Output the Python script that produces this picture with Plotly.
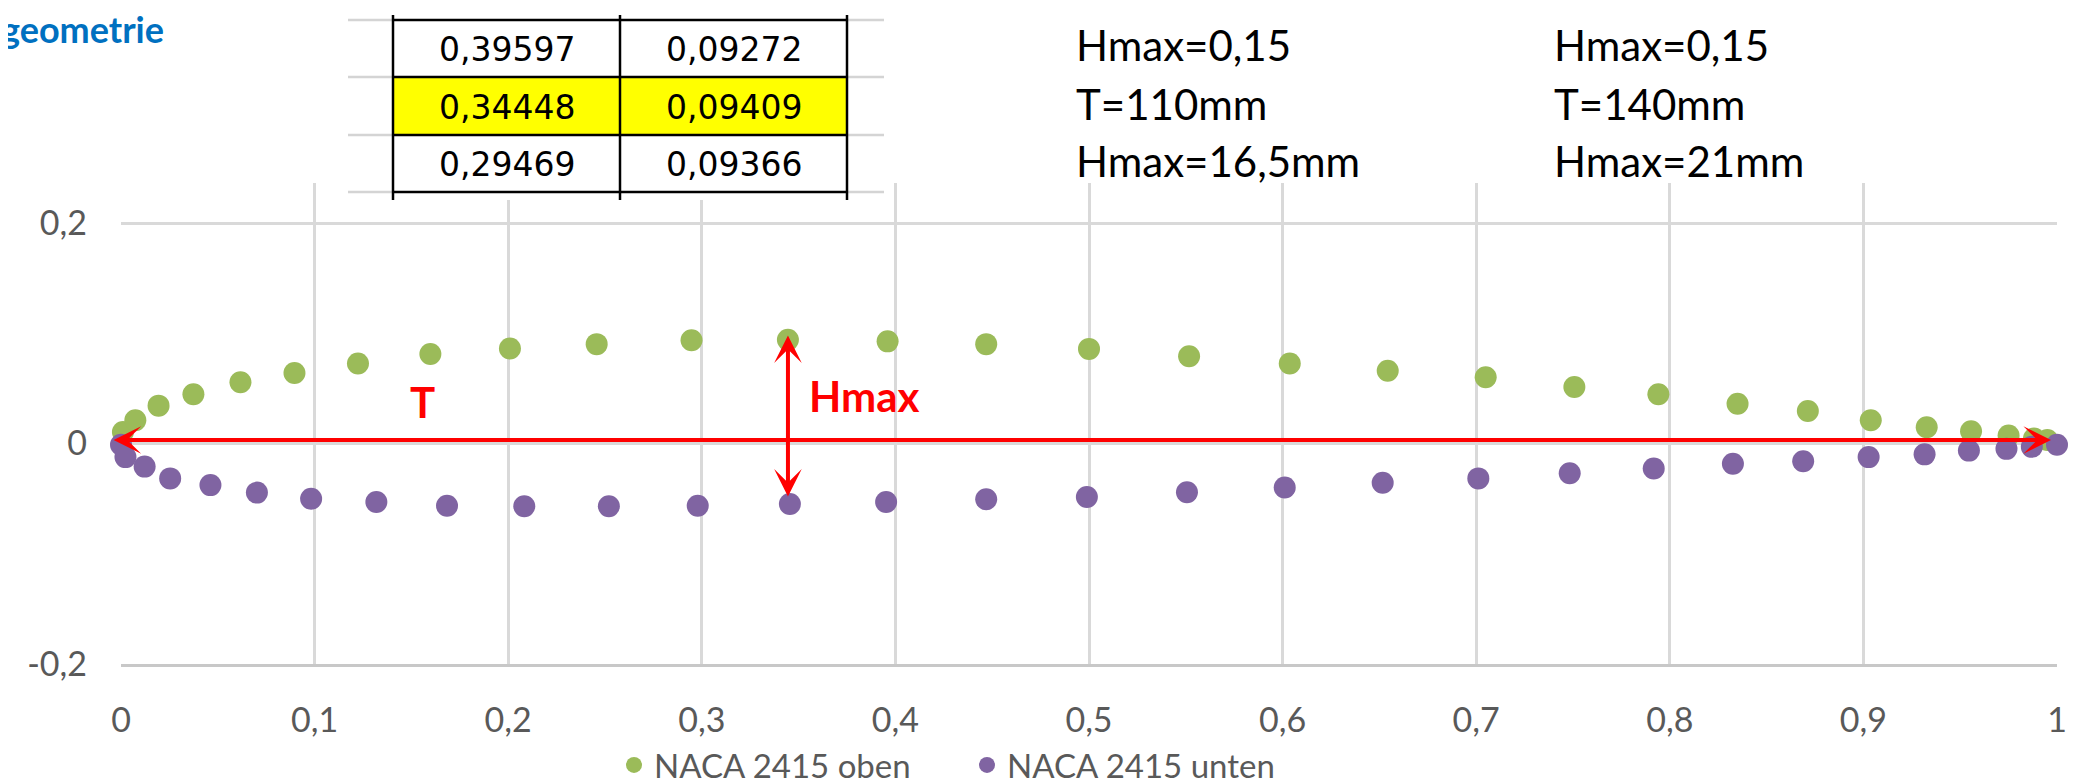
import plotly.graph_objects as go

# ---------------- data ----------------
x_oben = [0.001, 0.0074, 0.0194, 0.0374, 0.0617, 0.0896, 0.1224, 0.1598, 0.2009, 0.2457,
          0.29469, 0.34448, 0.39597, 0.4469, 0.5000, 0.5517, 0.6037, 0.6543, 0.7049, 0.7507,
          0.7941, 0.8350, 0.8713, 0.9038, 0.9327, 0.9556, 0.9750, 0.9881, 0.9950]
y_oben = [0.0105, 0.0212, 0.0344, 0.0448, 0.0556, 0.0641, 0.0727, 0.0813, 0.0862, 0.0902,
          0.09366, 0.09409, 0.09272, 0.0902, 0.0859, 0.0792, 0.0727, 0.0660, 0.0602, 0.0513,
          0.0448, 0.0362, 0.0295, 0.0212, 0.0148, 0.0112, 0.0072, 0.0045, 0.0032]

x_unten = [0.0, 0.0023, 0.0122, 0.0254, 0.0462, 0.0702, 0.0982, 0.1319, 0.1684, 0.2083,
           0.2520, 0.2979, 0.3455, 0.3952, 0.4469, 0.4989, 0.5506, 0.6011, 0.6517, 0.7011,
           0.7483, 0.7917, 0.8326, 0.8689, 0.9027, 0.9316, 0.9545, 0.9739, 0.9870, 1.0]
y_unten = [-0.0010, -0.0123, -0.0209, -0.0316, -0.0377, -0.0445, -0.0500, -0.0531, -0.0565, -0.0568,
           -0.0568, -0.0565, -0.0549, -0.0531, -0.0506, -0.0485, -0.0442, -0.0399, -0.0356, -0.0316,
           -0.0270, -0.0227, -0.0184, -0.0160, -0.0123, -0.0098, -0.0064, -0.0048, -0.0030, -0.0010]

series_names = ["NACA 2415 oben", "NACA 2415 unten"]

x_ticks = [0, 0.1, 0.2, 0.3, 0.4, 0.5, 0.6, 0.7, 0.8, 0.9, 1]
x_tick_labels = ["0", "0,1", "0,2", "0,3", "0,4", "0,5", "0,6", "0,7", "0,8", "0,9", "1"]
y_ticks = [-0.2, 0, 0.2]
y_tick_labels = ["-0,2", "0", "0,2"]

table_col1 = ["0,39597", "0,34448", "0,29469"]
table_col2 = ["0,09272", "0,09409", "0,09366"]
highlight_row = 1

info_left = ["Hmax=0,15", "T=110mm", "Hmax=16,5mm"]
info_right = ["Hmax=0,15", "T=140mm", "Hmax=21mm"]

hmax_x = 0.3445
hmax_top = 0.0981
hmax_bottom = -0.0494
t_left = -0.0046
t_right = 0.9969
t_y = 0.0032

# ---------------- layout helpers ----------------
W, H = 2077, 781
L, R, T, B = 113, 2049, 175, 656


def px(xp):
    return (xp - L) / (R - L)


def py(yp):
    return (B - yp) / (B - T)


GREEN = "#9BBB59"
PURPLE = "#8064A2"
RED = "#FF0000"
GRID = "#d9d9d9"
TXT = "#595959"
FONT = "Lato"

fig = go.Figure()
fig.add_trace(go.Scatter(x=x_oben, y=y_oben, mode="markers", name=series_names[0],
                         marker=dict(color=GREEN, size=22), cliponaxis=False))
fig.add_trace(go.Scatter(x=x_unten, y=y_unten, mode="markers", name=series_names[1],
                         marker=dict(color=PURPLE, size=22), cliponaxis=False))

shapes = []
annotations = []

# white patch of the pasted table image (hides gridlines under it)
shapes.append(dict(type="rect", xref="paper", yref="paper", x0=px(340), x1=px(878),
                   y0=py(192), y1=py(0), fillcolor="white", line=dict(width=0), layer="above"))

# table geometry
tx = [385, 612, 839]
ty = [12, 69, 127, 184]
shapes.append(dict(type="rect", xref="paper", yref="paper",
                   x0=px(tx[0]), x1=px(tx[2]), y0=py(ty[highlight_row + 1]), y1=py(ty[highlight_row]),
                   fillcolor="#FFFF00", line=dict(width=0), layer="above"))
for yy in ty:
    shapes.append(dict(type="line", xref="paper", yref="paper", x0=px(340), x1=px(tx[0]),
                       y0=py(yy), y1=py(yy), line=dict(color="#d4d4d4", width=2.5), layer="above"))
    shapes.append(dict(type="line", xref="paper", yref="paper", x0=px(tx[2]), x1=px(876),
                       y0=py(yy), y1=py(yy), line=dict(color="#d4d4d4", width=2.5), layer="above"))
    shapes.append(dict(type="line", xref="paper", yref="paper", x0=px(tx[0]), x1=px(tx[2]),
                       y0=py(yy), y1=py(yy), line=dict(color="black", width=2.5), layer="above"))
for xx in tx:
    shapes.append(dict(type="line", xref="paper", yref="paper", x0=px(xx), x1=px(xx),
                       y0=py(7), y1=py(192), line=dict(color="black", width=2.5), layer="above"))

for i in range(3):
    yc = (ty[i] + ty[i + 1]) / 2 + 1
    for j, col in enumerate([table_col1, table_col2]):
        xc = (tx[j] + tx[j + 1]) / 2
        annotations.append(dict(xref="paper", yref="paper", x=px(xc), y=py(yc), text=col[i],
                                showarrow=False, xanchor="center", yanchor="middle",
                                font=dict(family="DejaVu Sans", size=33, color="#000000")))

# info text block
row_y = [37, 96, 153]
for i in range(3):
    annotations.append(dict(xref="paper", yref="paper", x=px(1066), y=py(row_y[i]), text=info_left[i],
                            showarrow=False, xanchor="left", yanchor="middle",
                            font=dict(family=FONT, size=42, color="black")))
    annotations.append(dict(xref="paper", yref="paper", x=px(1544), y=py(row_y[i]), text=info_right[i],
                            showarrow=False, xanchor="left", yanchor="middle",
                            font=dict(family=FONT, size=42, color="black")))

# title fragment (cut at the left edge as in the source screenshot)
annotations.append(dict(xref="paper", yref="paper", x=px(158), y=py(21), text="<b>geometrie</b>",
                        showarrow=False, xanchor="right", yanchor="middle",
                        font=dict(family=FONT, size=36, color="#0070C0")))

# red arrows
annotations.append(dict(xref="x", yref="y", axref="x", ayref="y", x=t_right, y=t_y, ax=t_left, ay=t_y,
                        text="", showarrow=True, arrowside="end+start", arrowhead=3, startarrowhead=3,
                        arrowsize=1.15, startarrowsize=1.15, arrowwidth=4, arrowcolor=RED,
                        standoff=0, startstandoff=0))
annotations.append(dict(xref="x", yref="y", axref="x", ayref="y", x=hmax_x, y=hmax_top, ax=hmax_x,
                        ay=hmax_bottom, text="", showarrow=True, arrowside="end+start", arrowhead=3,
                        startarrowhead=3, arrowsize=1.15, startarrowsize=1.15, arrowwidth=4, arrowcolor=RED,
                        standoff=0, startstandoff=0))
annotations.append(dict(xref="paper", yref="paper", x=px(414), y=py(394), text="<b>T</b>",
                        showarrow=False, xanchor="center", yanchor="middle",
                        font=dict(family=FONT, size=42, color=RED)))
annotations.append(dict(xref="paper", yref="paper", x=px(856), y=py(388), text="<b>Hmax</b>",
                        showarrow=False, xanchor="center", yanchor="middle",
                        font=dict(family=FONT, size=42, color=RED)))

fig.update_layout(
    template="none",
    width=W, height=H,
    margin=dict(l=L, r=W - R, t=T, b=H - B, pad=0, autoexpand=False),
    paper_bgcolor="white", plot_bgcolor="white",
    showlegend=True,
    legend=dict(orientation="h", x=px(606), xanchor="left", y=py(757), yanchor="middle",
                font=dict(family=FONT, size=33, color=TXT), entrywidth=308, entrywidthmode="pixels",
                bgcolor="rgba(0,0,0,0)", borderwidth=0),
    xaxis=dict(range=[0, 1], tickvals=x_ticks, ticktext=x_tick_labels, showgrid=True,
               gridcolor=GRID, gridwidth=2.5, zeroline=False, showline=True, linecolor="#c8c8c8",
               linewidth=2.5, ticks="", ticklabelstandoff=24, automargin=False,
               tickfont=dict(family=FONT, size=34, color=TXT), fixedrange=True),
    yaxis=dict(range=[-0.2, 0.2364], tickvals=y_ticks, ticktext=y_tick_labels, showgrid=True,
               gridcolor=GRID, gridwidth=2.5, zeroline=False, showline=False, ticks="",
               ticklabelstandoff=33, automargin=False,
               tickfont=dict(family=FONT, size=34, color=TXT), fixedrange=True),
    shapes=shapes,
    annotations=annotations,
)

fig.write_html("out.html")
